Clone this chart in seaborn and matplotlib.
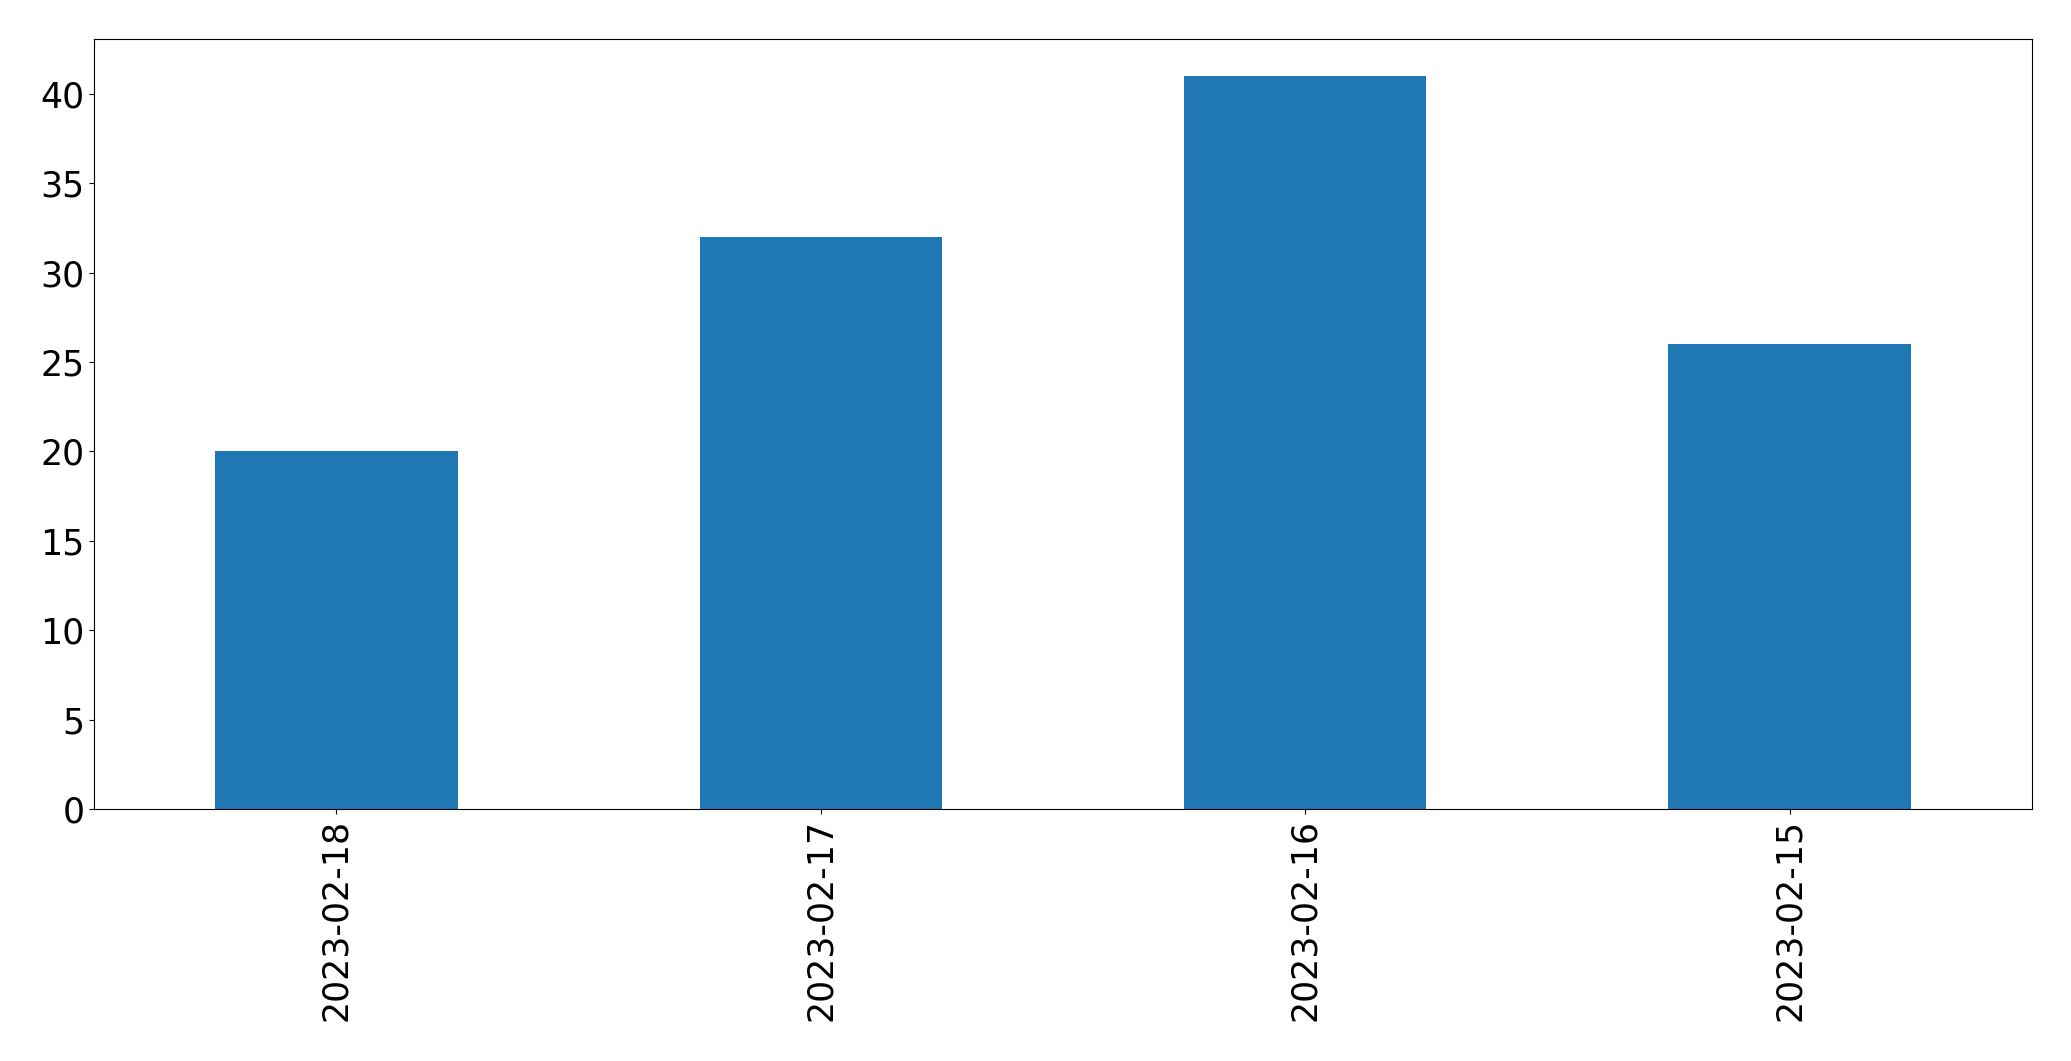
import matplotlib
matplotlib.use("Agg")
import matplotlib.pyplot as plt
import seaborn as sns
import pandas as pd

dates = ["2023-02-18", "2023-02-17", "2023-02-16", "2023-02-15"]
counts = [20, 32, 41, 26]

df = pd.DataFrame({"date": dates, "count": counts})

fig = plt.figure(figsize=(20.71, 10.61), dpi=100)
ax = fig.add_axes([94.3 / 2071, 1 - 809 / 1061, (2031.7 - 94.3) / 2071, (809 - 39.3) / 1061])
sns.barplot(data=df, x="date", y="count", order=dates, color="#1f77b4",
            saturation=1, width=0.5, linewidth=0, ax=ax)
ax.set_xlim(-0.5, len(dates) - 0.5)
ax.set_ylim(0, max(counts) * 1.05)
ax.set_xlabel("")
ax.set_ylabel("")
ax.tick_params(axis="both", labelsize=25)
ax.tick_params(axis="x", labelrotation=90)
for s in ax.spines.values():
    s.set_visible(True)
    s.set_color("black")
fig.savefig("out.png", dpi=100)
